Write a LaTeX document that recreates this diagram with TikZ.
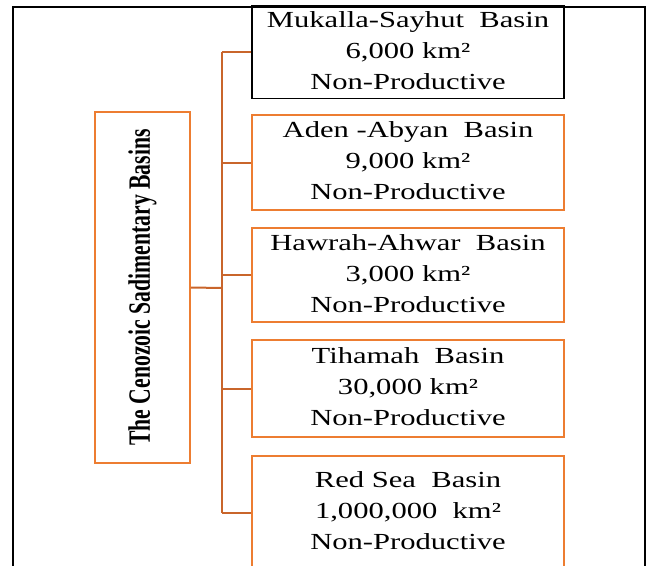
\documentclass[tikz,border=0pt]{standalone}
\usepackage{fontspec}
\setmainfont{Liberation Serif}
\usetikzlibrary{positioning, calc}
\definecolor{boxorange}{HTML}{ED7D31}
\definecolor{lineorange}{HTML}{C9652B}
\newcommand{\basinlines}[2]{\scalebox{1.33}[1]{\begin{tabular}{@{}c@{}}#1\\#2\\Non-Productive\end{tabular}}}

\begin{document}
\begin{tikzpicture}[x=1pt, y=-1pt,
    basin/.style={draw=boxorange, line width=1.6pt, minimum width=312pt, inner sep=0pt, font=\fontsize{23}{31}\selectfont},
    link/.style={draw=lineorange, line width=2pt}]
    \useasboundingbox (0,0) rectangle (648,565);
    \draw[line width=2pt] (13,580) -- (13,7) -- (645,7) -- (645,580);
    % root box
    \node[draw=boxorange, line width=1.6pt, rotate=90, minimum width=351pt, minimum height=95pt, inner sep=0pt] (root) at (142.5,287.5)
        {\scalebox{0.7}[1]{\fontsize{31}{31}\selectfont\bfseries The Cenozoic Sadimentary Basins}};
    % basins
    \node[basin, draw=black, minimum height=90pt] (mukalla) at (408,52) {\basinlines{Mukalla-Sayhut\ \ Basin}{6,000 km²}};
    \node[basin, minimum height=95pt] (aden) at (408,162.5) {\basinlines{Aden -Abyan\ \ Basin}{9,000 km²}};
    \node[basin, minimum height=94pt] (hawrah) at (408,275) {\basinlines{Hawrah-Ahwar\ \ Basin}{3,000 km²}};
    \node[basin, minimum height=97pt] (tihamah) at (408,388.5) {\basinlines{Tihamah\ \ Basin}{30,000 km²}};
    \node[basin, minimum height=113pt] (redsea) at (408,512.5) {\basinlines{Red Sea\ \ Basin}{1,000,000\ \ km²}};
    % connectors
    \coordinate (trunk) at (222,288);
    \draw[link] (root.south) -- (trunk);
    \draw[link] (trunk |- mukalla.west) -- (trunk |- redsea.west);
    \foreach \b in {mukalla, aden, hawrah, tihamah, redsea}
        \draw[link] (trunk |- \b.west) -- (\b.west);
\end{tikzpicture}
\end{document}
